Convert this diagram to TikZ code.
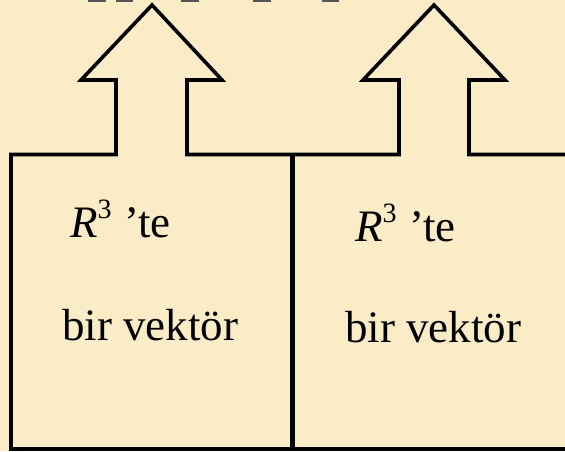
\documentclass[tikz,border=0pt]{standalone}
\usepackage{fontspec}
\setmainfont{Liberation Serif}
\newfontfamily\labelfont{Liberation Serif}
\usetikzlibrary{arrows.meta}
\definecolor{paper}{RGB}{251,236,200}
\definecolor{stub}{RGB}{85,85,85}
\newcommand{\rthree}{\textit{R}\raisebox{0.42em}{\fontsize{28}{30}\selectfont 3}\hspace{0.28em}’te}

\begin{document}
\begin{tikzpicture}[
  x=1pt, y=-1pt,
  every node/.style={font=\labelfont\fontsize{45}{54}\selectfont, inner sep=0, anchor=base west},
  outline/.style={draw=black, line width=3.6pt, line join=miter}
]

% Background
\fill[paper] (0,0) rectangle (565,451);
\useasboundingbox (0,0) rectangle (565,451);

% Cut-off marks at the top edge
\foreach \a/\b in {88/106, 116/133, 181/199, 253/271, 322/339} {
  \fill[stub] (\a,0) rectangle (\b,2);
}

% Boxes with the two arrows on top
\draw[outline] (565,449) -- (11,449) -- (11,154.5) -- (116,154.5) -- (116,80)
  -- (81,80) -- (152,5) -- (222,80) -- (187,80) -- (187,154.5) -- (399,154.5)
  -- (399,80) -- (363,80) -- (434,5) -- (505,80) -- (469,80) -- (469,154.5)
  -- (565,154.5);
\draw[outline, line width=4.8pt] (292.5,154.5) -- (292.5,451);

% Labels
\node (lefttop) at (70,237) {\rthree};
\node (leftbot) at (62,340) {bir vektör};
\node (righttop) at (355,241) {\rthree};
\node (rightbot) at (345,342) {bir vektör};

\end{tikzpicture}
\end{document}
